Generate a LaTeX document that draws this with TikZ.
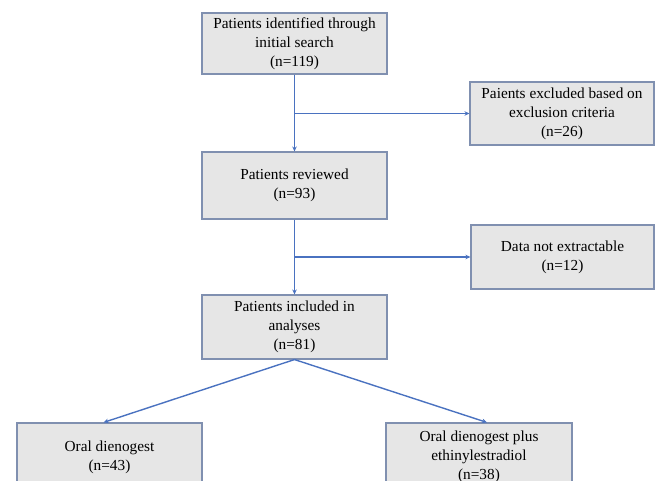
\documentclass[tikz,border=0pt]{standalone}
\usepackage{fontspec}
\setmainfont{Liberation Serif}
\usetikzlibrary{arrows.meta,positioning}
\definecolor{boxfill}{HTML}{E6E6E6}
\definecolor{boxline}{HTML}{8090B0}
\definecolor{flowblue}{HTML}{4A72C0}
\tikzset{%
        box/.style = {
            draw = boxline,
            fill = boxfill,
            line width = 1.1pt,
            align = center,
            inner sep = 0pt,
            font = \fontsize{15.3}{19}\selectfont
        },
        flow/.style = {
            -{Stealth[length=5pt,width=4.5pt]},
            draw = flowblue,
            line width = 1.4pt
        }
}

\begin{document}
\begin{tikzpicture}[x=1pt,y=-1pt]
        \clip (0,0) rectangle (657,481);
        \node[box, minimum width=185pt, minimum height=61pt] (found) at (294.5,43.5)
            {Patients identified through\\initial search\\(n=119)};
        \node[box, minimum width=184pt, minimum height=63pt] (excl) at (562,113.5)
            {Paients excluded based on\\exclusion criteria\\(n=26)};
        \node[box, minimum width=185pt, minimum height=67pt] (rev) at (294.5,185.5)
            {Patients reviewed\\(n=93)};
        \node[box, minimum width=183pt, minimum height=64pt] (noext) at (562.5,257)
            {Data not extractable\\(n=12)};
        \node[box, minimum width=185pt, minimum height=64pt] (incl) at (294.5,327)
            {Patients included in\\analyses\\(n=81)};
        \node[box, minimum width=185pt, minimum height=68pt] (dng) at (109.5,457)
            {Oral dienogest\\(n=43)};
        \node[box, minimum width=186pt, minimum height=68pt] (dnge) at (479,457)
            {Oral dienogest plus\\ethinylestradiol\\(n=38)};
      \draw[flow] (found) -- (rev);
      \draw[flow] (found.south |- excl.west) -- (excl.west);
      \draw[flow] (rev) -- (incl);
      \draw[flow] (rev.south |- noext.west) -- (noext.west);
      \draw[flow] (incl.south) -- ([xshift=-6pt]dng.north);
      \draw[flow] (incl.south) -- ([xshift=8pt]dnge.north);
    \end{tikzpicture}
\end{document}
